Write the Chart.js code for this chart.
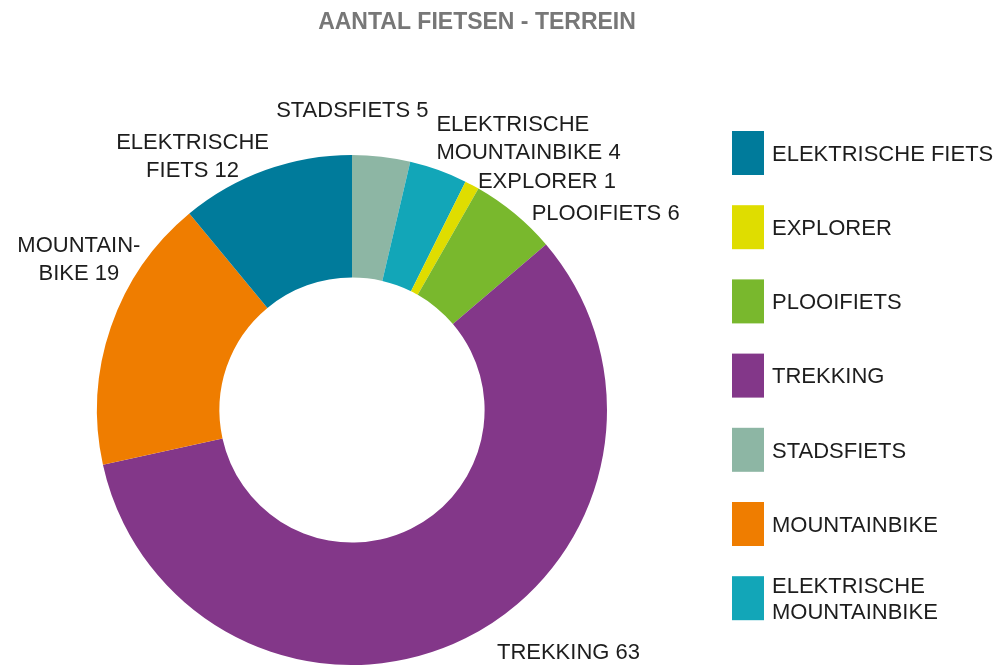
<!DOCTYPE html>
<html>
<head>
<meta charset="utf-8">
<script src="https://cdn.jsdelivr.net/npm/chart.js@4/dist/chart.umd.min.js"></script>
<style>
    html, body { margin: 0; padding: 0; background: #fff; }
    #wrap { width: 1003px; height: 665px; position: relative; }
</style>
</head>
<body>
<div id="wrap"><canvas id="terrainChart"></canvas></div>
<script>
// data (clockwise from the top)
const categories = ['STADSFIETS', 'ELEKTRISCHE MOUNTAINBIKE', 'EXPLORER', 'PLOOIFIETS', 'TREKKING', 'MOUNTAINBIKE', 'ELEKTRISCHE FIETS'];
// slice sizes as measured on the ring (the stadsfiets slice measures 4 although its label reads 5)
const sliceValues = [4, 4, 1, 6, 63, 19, 12];
// numbers printed in the labels
const labelValues = [5, 4, 1, 6, 63, 19, 12];
const sliceColors = ['#8db6a4', '#12a6b8', '#dfdd00', '#79b82d', '#833789', '#ef7d00', '#007b9b'];
// text of the labels next to the ring (the value is added to the last line)
const labelLines = [['STADSFIETS'], ['ELEKTRISCHE', 'MOUNTAINBIKE'], ['EXPLORER'], ['PLOOIFIETS'], ['TREKKING'], ['MOUNTAIN-', 'BIKE'], ['ELEKTRISCHE', 'FIETS']];
// legend order and text
const legendOrder = ['ELEKTRISCHE FIETS', 'EXPLORER', 'PLOOIFIETS', 'TREKKING', 'STADSFIETS', 'MOUNTAINBIKE', 'ELEKTRISCHE MOUNTAINBIKE'];
const legendLines = { 'ELEKTRISCHE MOUNTAINBIKE': ['ELEKTRISCHE', 'MOUNTAINBIKE'] };
const chartTitle = 'AANTAL FIETSEN - TERREIN';

const FONT = '"Liberation Sans", Arial, Helvetica, sans-serif';

// label placement, shifted from the middle of each slice's outer edge
const labelShift = [[-29, -48], [-2, -33], [75, -5], [91, -1], [103, 13], [-32, -69], [-73, -15]];
const labelAlign = ['center', 'left', 'center', 'center', 'center', 'center', 'center'];

const decorPlugin = {
    id: 'decor',
    afterDraw(chart) {
        const ctx = chart.ctx;
        const meta = chart.getDatasetMeta(0);
        const cap = 22 * 0.716;

        ctx.save();
        // title
        ctx.font = 'bold 23px ' + FONT;
        ctx.fillStyle = '#777777';
        ctx.textAlign = 'center';
        ctx.textBaseline = 'alphabetic';
        ctx.fillText(chartTitle, 477, 29);

        // slice labels
        ctx.font = '22px ' + FONT;
        ctx.fillStyle = '#1d1d1d';
        meta.data.forEach((arc, i) => {
            const p = arc.getProps(['x', 'y', 'startAngle', 'endAngle', 'outerRadius'], true);
            const mid = (p.startAngle + p.endAngle) / 2;
            const cx = p.x + Math.cos(mid) * p.outerRadius + labelShift[i][0];
            const cy = p.y + Math.sin(mid) * p.outerRadius + labelShift[i][1];
            const lines = labelLines[i].slice();
            lines[lines.length - 1] += ' ' + labelValues[i];
            const lh = lines.length > 1 ? 28 : 0;
            let y = cy - (lines.length - 1) * lh / 2 + cap / 2;
            ctx.textAlign = labelAlign[i];
            lines.forEach(t => {
                ctx.fillText(t, cx, y);
                y += lh;
            });
        });

        // legend
        const lx = 732, top = 131, step = 74.2, bw = 32, bh = 44;
        ctx.textAlign = 'left';
        legendOrder.forEach((name, k) => {
            const idx = categories.indexOf(name);
            const by = top + k * step;
            ctx.fillStyle = sliceColors[idx];
            ctx.fillRect(lx, by, bw, bh);
            ctx.fillStyle = '#1d1d1d';
            const lines = legendLines[name] || [name];
            const lh = 25.5;
            let y = by + bh / 2 - (lines.length - 1) * lh / 2 + cap / 2;
            lines.forEach(t => {
                ctx.fillText(t, lx + 40, y);
                y += lh;
            });
        });
        ctx.restore();
    }
};

new Chart(document.getElementById('terrainChart'), {
    type: 'doughnut',
    data: {
        labels: categories,
        datasets: [{
            data: sliceValues,
            backgroundColor: sliceColors,
            borderWidth: 0,
            hoverOffset: 0
        }]
    },
    options: {
        responsive: true,
        maintainAspectRatio: false,
        animation: false,
        cutout: '52%',
        rotation: 0,
        layout: { padding: { left: 97, right: 396, top: 155, bottom: 0 } },
        plugins: {
            legend: { display: false },
            tooltip: { enabled: false },
            title: { display: false }
        }
    },
    plugins: [decorPlugin]
});
</script>
</body>
</html>
